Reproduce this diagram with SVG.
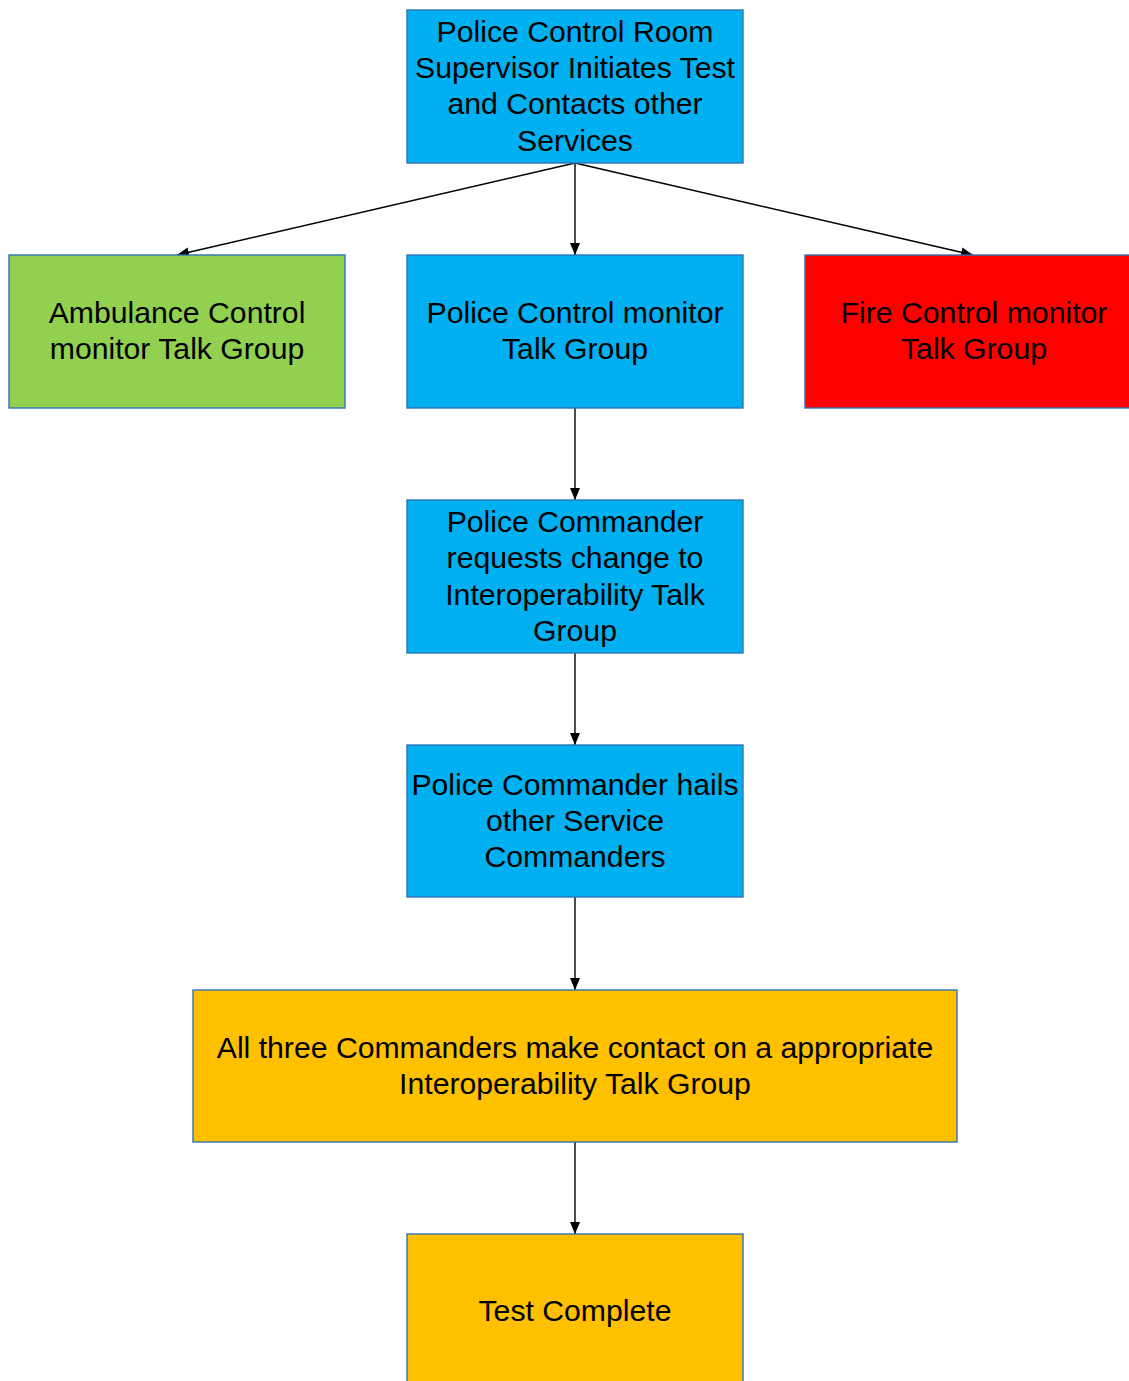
<svg xmlns="http://www.w3.org/2000/svg" width="1129" height="1381" viewBox="0 0 1129 1381">
  <style>
    .box { stroke: #2e75b6; stroke-width: 1.4; }
    .blue { fill: #00b0f0; }
    .green { fill: #92d050; }
    .red { fill: #ff0000; }
    .amber { fill: #ffc000; }
    .lbl { font-family: "Liberation Sans", Arial, sans-serif; font-size: 30.2px; fill: #000; text-anchor: middle; dominant-baseline: central; }
    .edge { stroke: #000; stroke-width: 1.4; fill: none; marker-end: url(#arrow); }
  </style>
  <defs>
    <marker id="arrow" markerWidth="12" markerHeight="10" refX="12" refY="5" orient="auto" markerUnits="userSpaceOnUse">
      <path d="M0,0 L12,5 L0,10 Z" fill="#000"/>
    </marker>
  </defs>
  <rect width="1129" height="1381" fill="#fff"/>

  <g id="connectors">
    <line class="edge" x1="575" y1="163" x2="177" y2="255"/>
    <line class="edge" x1="575" y1="163" x2="575" y2="255"/>
    <line class="edge" x1="575" y1="163" x2="973" y2="255"/>
    <line class="edge" x1="575" y1="408" x2="575" y2="500"/>
    <line class="edge" x1="575" y1="653" x2="575" y2="745"/>
    <line class="edge" x1="575" y1="897" x2="575" y2="990"/>
    <line class="edge" x1="575" y1="1142" x2="575" y2="1234"/>
  </g>

  <g id="start">
    <rect class="box blue" x="407" y="10" width="336" height="153"/>
    <text class="lbl" x="575" y="31">Police Control Room</text>
    <text class="lbl" x="575" y="67.3">Supervisor Initiates Test</text>
    <text class="lbl" x="575" y="103.6">and Contacts other</text>
    <text class="lbl" x="575" y="140">Services</text>
  </g>

  <g id="ambulance">
    <rect class="box green" x="9" y="255" width="336" height="153"/>
    <text class="lbl" x="177" y="312.5">Ambulance Control</text>
    <text class="lbl" x="177" y="348.8">monitor Talk Group</text>
  </g>

  <g id="police">
    <rect class="box blue" x="407" y="255" width="336" height="153"/>
    <text class="lbl" x="575" y="312.5">Police Control monitor</text>
    <text class="lbl" x="575" y="348.8">Talk Group</text>
  </g>

  <g id="fire">
    <rect class="box red" x="805" y="255" width="336" height="153"/>
    <text class="lbl" x="974" y="312.5">Fire Control monitor</text>
    <text class="lbl" x="974" y="348.8">Talk Group</text>
  </g>

  <g id="request">
    <rect class="box blue" x="407" y="500" width="336" height="153"/>
    <text class="lbl" x="575" y="521.5">Police Commander</text>
    <text class="lbl" x="575" y="557.8">requests change to</text>
    <text class="lbl" x="575" y="594.1">Interoperability Talk</text>
    <text class="lbl" x="575" y="630.4">Group</text>
  </g>

  <g id="hail">
    <rect class="box blue" x="407" y="745" width="336" height="152"/>
    <text class="lbl" x="575" y="784">Police Commander hails</text>
    <text class="lbl" x="575" y="820.3">other Service</text>
    <text class="lbl" x="575" y="856.6">Commanders</text>
  </g>

  <g id="contact">
    <rect class="box amber" x="193" y="990" width="764" height="152"/>
    <text class="lbl" x="575" y="1047.3">All three Commanders make contact on a appropriate</text>
    <text class="lbl" x="575" y="1083.6">Interoperability Talk Group</text>
  </g>

  <g id="complete">
    <rect class="box amber" x="407" y="1234" width="336" height="153"/>
    <text class="lbl" x="575" y="1310">Test Complete</text>
  </g>
</svg>
